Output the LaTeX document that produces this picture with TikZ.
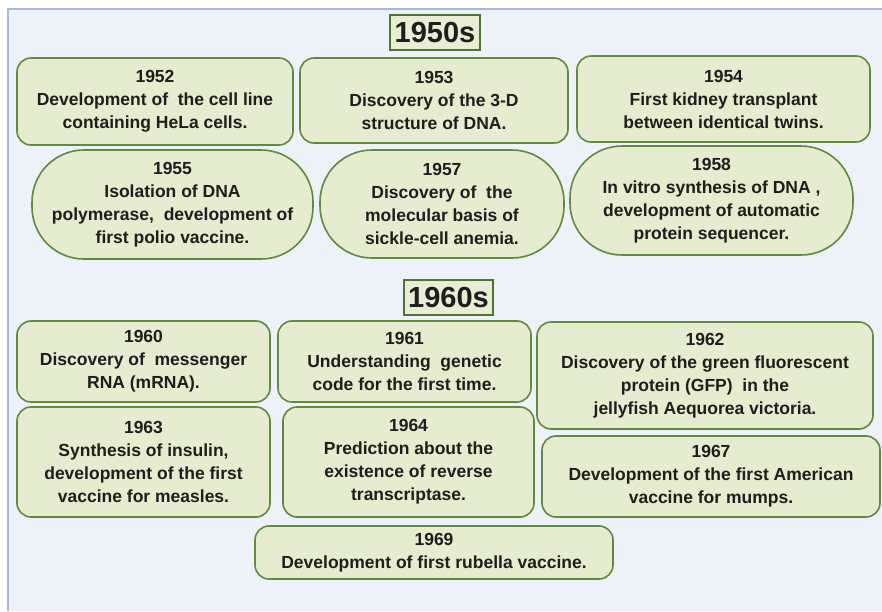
\documentclass[tikz,border=0pt]{standalone}
\usepackage{fontspec}
\setmainfont{Liberation Sans}
\definecolor{pagebg}{HTML}{EDF1F8}
\definecolor{framec}{HTML}{A9B8D6}
\definecolor{boxfill}{HTML}{E5ECCF}
\definecolor{boxline}{HTML}{5F8A3F}
\definecolor{titlefill}{HTML}{E8EED3}
\definecolor{titleline}{HTML}{4F7336}
\definecolor{ink}{HTML}{1E1E1E}
\begin{document}
\begin{tikzpicture}[x=1pt,y=-1pt,
  evbox/.style={draw=boxline, fill=boxfill, line width=1.6pt, rounded corners=14pt,
    align=center, text=ink, inner sep=0pt,
    font=\bfseries\fontsize{17.5}{23}\selectfont},
  pill/.style={evbox, rounded corners=52pt},
  decade/.style={draw=titleline, fill=titlefill, line width=1.2pt, inner sep=0pt,
    text=ink, font=\bfseries\fontsize{29}{32}\selectfont,
    minimum width=90pt, minimum height=35pt}]
\useasboundingbox (0,0) rectangle (882,611);
% page backdrop with its left and top rule
\fill[pagebg] (8,9) rectangle (882,611);
\draw[framec, line width=1.6pt] (8,611) -- (8,9) -- (882,9);

% ---- 1950s ----
\node[decade] (d50) at (435,32.5) {1950s};
\node[evbox, minimum width=276pt, minimum height=87pt] (e1952) at (155,101.5)
  {1952\\Development of~ the cell line\\containing HeLa cells.};
\node[evbox, minimum width=268pt, minimum height=85pt] (e1953) at (434,100.5)
  {1953\\Discovery of the 3-D\\structure of DNA.};
\node[evbox, minimum width=293pt, minimum height=86pt] (e1954) at (723.5,99)
  {1954\\First kidney transplant\\between identical twins.};
\node[pill, minimum width=281pt, minimum height=109pt] (e1955) at (172.5,204.5)
  {1955\\Isolation of DNA\\polymerase,~ development of\\first polio vaccine.};
\node[pill, minimum width=244pt, minimum height=108pt] (e1957) at (442,204)
  {1957\\Discovery of~ the\\molecular basis of\\sickle-cell anemia.};
\node[pill, minimum width=283pt, minimum height=109pt] (e1958) at (711.5,200.5)
  {1958\\In vitro synthesis of DNA ,\\development of automatic\\protein sequencer.};

% ---- 1960s ----
\node[decade, minimum width=89pt] (d60) at (448.5,297.5) {1960s};
\node[evbox, minimum width=253pt, minimum height=81pt] (e1960) at (143.5,361.5)
  {1960\\Discovery of~ messenger\\RNA (mRNA).};
\node[evbox, minimum width=253pt, minimum height=81pt] (e1961) at (404.5,361.5)
  {1961\\Understanding~ genetic\\code for the first time.};
\node[evbox, minimum width=336pt, minimum height=107pt] (e1962) at (705,375.5)
  {1962\\Discovery of the green fluorescent\\protein (GFP)~ in the\\jellyfish Aequorea victoria.};
\node[evbox, minimum width=253pt, minimum height=110pt] (e1963) at (143.5,462)
  {1963\\Synthesis of insulin,\\development of the first\\vaccine for measles.};
\node[evbox, minimum width=251pt, minimum height=110pt] (e1964) at (408.5,462)
  {1964\\Prediction about the\\existence of reverse\\transcriptase.};
\node[evbox, minimum width=338pt, minimum height=81pt] (e1967) at (711,476.5)
  {1967\\Development of the first American\\vaccine for mumps.};
\node[evbox, minimum width=358pt, minimum height=53pt] (e1969) at (434,552.5)
  {1969\\Development of first rubella vaccine.};
\end{tikzpicture}
\end{document}
